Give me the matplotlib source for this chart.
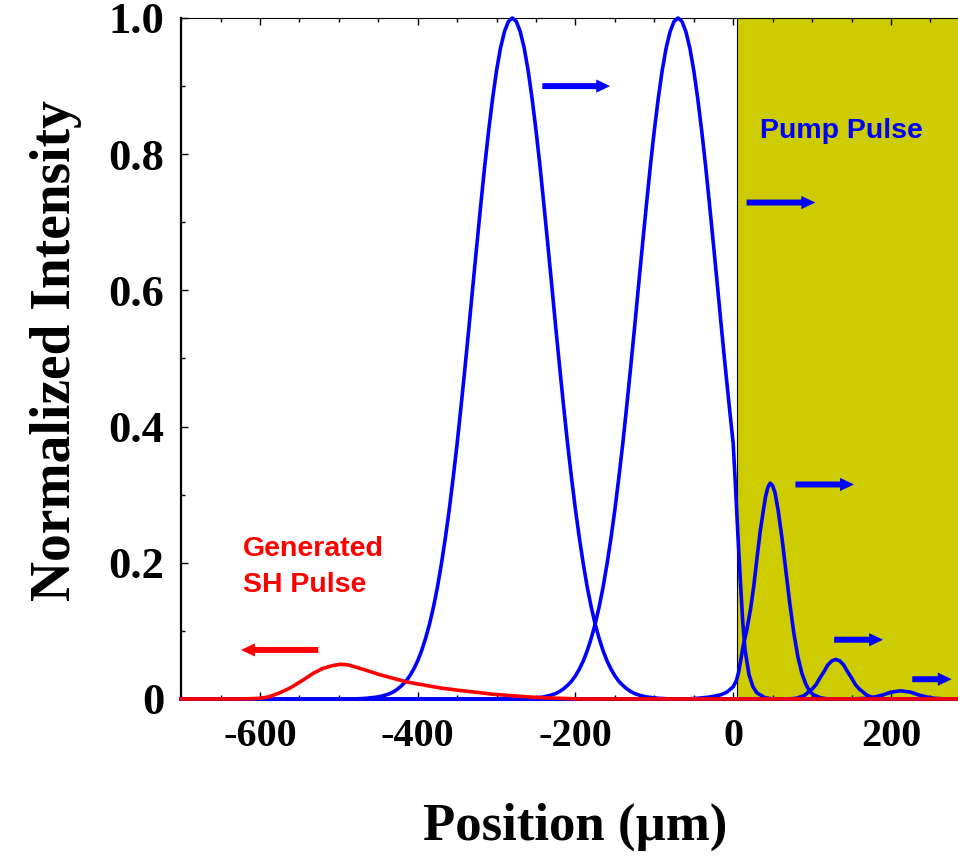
import matplotlib
matplotlib.use('Agg')
import matplotlib.pyplot as plt
from matplotlib.ticker import MultipleLocator

plt.rcParams['axes.unicode_minus'] = False

################### DATA ###################
# position in um, normalized intensity
pulse1_x = [-700, -480, -465, -450, -440, -435, -430, -425, -420, -415, -410, -405, -400, -395, -390,
            -385, -380, -375, -370, -365, -360, -355, -350, -345, -340, -335, -330, -325, -320,
            -315, -310, -305, -300, -295, -290, -285, -280, -275, -270, -265, -260, -255, -250,
            -245, -240, -235, -230, -225, -220, -215, -210, -205, -200, -195, -190, -185, -180,
            -175, -170, -165, -160, -155, -150, -145, -140, -135, -130, -125, -120, -110, -95, -80, 285]
pulse1_y = [0.0, 0.0, 0.001, 0.003, 0.006, 0.008, 0.011, 0.015, 0.020, 0.026, 0.034, 0.044, 0.056, 0.071, 0.089,
            0.110, 0.135, 0.164, 0.198, 0.236, 0.278, 0.325, 0.375, 0.430, 0.487, 0.546, 0.607, 0.667, 0.726,
            0.783, 0.835, 0.882, 0.923, 0.956, 0.980, 0.995, 1.0, 0.995, 0.980, 0.956, 0.923, 0.882, 0.835,
            0.783, 0.726, 0.667, 0.607, 0.546, 0.487, 0.430, 0.375, 0.325, 0.278, 0.236, 0.198, 0.164, 0.135,
            0.110, 0.089, 0.071, 0.056, 0.044, 0.034, 0.026, 0.020, 0.015, 0.011, 0.008, 0.006, 0.003, 0.001, 0.0, 0.0]

pulse2_x = [-700, -270, -255, -240, -230, -225, -220, -215, -210, -205, -200, -195, -190, -185, -180,
            -175, -170, -165, -160, -155, -150, -145, -140, -135, -130, -125, -120, -115, -110,
            -105, -100, -95, -90, -85, -80, -75, -70, -65, -60, -55, -50, -45, -40, -35, -30,
            -25, -20, -15, -10, -5, 0, 3, 6, 9, 12, 15, 20, 25, 30, 40, 50, 285]
pulse2_y = [0.0, 0.0, 0.001, 0.003, 0.006, 0.008, 0.011, 0.015, 0.020, 0.026, 0.034, 0.044, 0.056, 0.071, 0.089,
            0.110, 0.135, 0.164, 0.198, 0.236, 0.278, 0.325, 0.375, 0.430, 0.487, 0.546, 0.607, 0.667, 0.726,
            0.783, 0.835, 0.882, 0.923, 0.956, 0.980, 0.995, 1.0, 0.995, 0.980, 0.956, 0.923, 0.882, 0.835, 0.783, 0.726,
            0.667, 0.607, 0.546, 0.487, 0.430, 0.375, 0.310, 0.240, 0.175, 0.115, 0.072, 0.036, 0.018, 0.009, 0.002, 0.0, 0.0]

pulse3_x = [-700, -60, -45, -29, -16, -8, 0, 4, 7, 10, 13, 17, 22, 26, 30, 34, 38, 41, 44, 47,
            50, 53, 57, 62, 67, 72, 77, 82, 87, 92, 97, 102, 110, 120, 285]
pulse3_y = [0.0, 0.0, 0.001, 0.003, 0.006, 0.010, 0.018, 0.027, 0.040, 0.060, 0.080, 0.100, 0.132, 0.165,
            0.205, 0.244, 0.275, 0.297, 0.311, 0.317,
            0.313, 0.303, 0.277, 0.235, 0.186, 0.138, 0.096, 0.062, 0.038, 0.022, 0.011, 0.006, 0.002, 0.0, 0.0]

pulse4_x = [-700, 70, 80, 90, 100, 105, 110, 115, 120, 125, 130, 135, 140, 145, 150, 155, 160, 170, 180, 190, 285]
pulse4_y = [0.0, 0.0, 0.001, 0.005, 0.0145, 0.021, 0.031, 0.040, 0.050, 0.056, 0.058, 0.056, 0.050, 0.040,
            0.031, 0.021, 0.0145, 0.005, 0.001, 0.0, 0.0]

pulse5_x = [-700, 150, 170, 180, 190, 200, 212, 225, 235, 245, 255, 270, 285]
pulse5_y = [0.0, 0.0, 0.001, 0.003, 0.006, 0.010, 0.012, 0.010, 0.006, 0.003, 0.001, 0.0, 0.0]

sh_x = [-700, -625, -610, -600, -589, -575, -562, -545, -532, -520, -508, -498, -488, -479, -465, -449, -430,
        -414, -390, -370, -350, -327, -305, -283, -260, -239, -215, -195, 285]
sh_y = [0.0, 0.0, 0.0005, 0.001, 0.003, 0.009, 0.016, 0.028, 0.038, 0.045, 0.049, 0.051, 0.050, 0.047, 0.042,
        0.036, 0.030, 0.025, 0.020, 0.016, 0.013, 0.010, 0.007, 0.005, 0.003, 0.0016, 0.0008, 0.0, 0.0]

crystal_start = 5
x_range = (-700, 285)

# arrows: (tail x, tip x, y)
blue_arrows = [(-242, -156, 0.900), (17, 104, 0.729), (79, 153, 0.315), (128, 190, 0.087), (227, 277, 0.029)]
red_arrow = (-526, -624, 0.072)
############## END: DATA ###################

serif = 'Liberation Serif'
sans = 'Liberation Sans'
arrow_style = 'simple,head_length=1.0,head_width=0.95,tail_width=0.43'

fig = plt.figure(figsize=(9.58, 8.57), dpi=100)
ax = fig.add_axes([0.189, 0.1844, 0.811, 0.7946])

# nonlinear crystal region
ax.axvspan(crystal_start, x_range[1], color='#cccc00', lw=0, zorder=0)
ax.axvline(crystal_start, color='black', lw=0.8, zorder=1)

for px, py in [(pulse1_x, pulse1_y), (pulse2_x, pulse2_y), (pulse3_x, pulse3_y),
               (pulse4_x, pulse4_y), (pulse5_x, pulse5_y)]:
    ax.plot(px, py, color='#0000ff', lw=2.6, clip_on=False, zorder=3, solid_joinstyle='round')
ax.plot(sh_x, sh_y, color='#ff0000', lw=2.6, clip_on=False, zorder=4, solid_joinstyle='round')

# direction arrows
for x0, x1, y in blue_arrows:
    ax.annotate('', xy=(x1, y), xytext=(x0, y),
                arrowprops=dict(arrowstyle=arrow_style, mutation_scale=10, color='#0000ff',
                                lw=0, shrinkA=0, shrinkB=0))
ax.annotate('', xy=(red_arrow[1], red_arrow[2]), xytext=(red_arrow[0], red_arrow[2]),
            arrowprops=dict(arrowstyle=arrow_style, mutation_scale=10, color='#ff0000',
                            lw=0, shrinkA=0, shrinkB=0))

ax.text(34, 0.824, 'Pump Pulse', color='#0000ff', fontsize=20.5, fontweight='bold',
        family=sans, ha='left', va='baseline')
ax.text(-621, 0.210, 'Generated', color='#ff0000', fontsize=20.5, fontweight='bold',
        family=sans, ha='left', va='baseline')
ax.text(-621, 0.157, 'SH Pulse', color='#ff0000', fontsize=20.5, fontweight='bold',
        family=sans, ha='left', va='baseline')

ax.set_xlim(*x_range)
ax.set_ylim(0, 1)
ax.xaxis.set_major_locator(MultipleLocator(200))
ax.xaxis.set_minor_locator(MultipleLocator(50))
ax.yaxis.set_minor_locator(MultipleLocator(0.1))
ax.set_yticks([0, 0.2, 0.4, 0.6, 0.8, 1.0])
ax.set_yticklabels(['0', '0.2', '0.4', '0.6', '0.8', '1.0'])

ax.tick_params(which='both', direction='in', top=True, right=False, width=1)
ax.tick_params(which='major', length=5)
ax.tick_params(which='minor', length=3)
ax.tick_params(axis='x', pad=14)
ax.tick_params(axis='y', pad=12)
for lab in ax.get_xticklabels():
    lab.set_family(serif)
    lab.set_fontweight('bold')
    lab.set_fontsize(29)
for lab in ax.get_yticklabels():
    lab.set_family(serif)
    lab.set_fontweight('bold')
    lab.set_fontsize(32)

ax.spines['right'].set_visible(False)
ax.spines['left'].set_linewidth(1.6)
ax.spines['top'].set_linewidth(0.8)
ax.spines['bottom'].set_linewidth(0.8)

ax.set_xlabel('Position (\u00b5m)', family=serif, fontweight='bold', fontsize=38)
ax.set_ylabel('Normalized Intensity', family=serif, fontweight='bold', fontsize=40)
ax.xaxis.set_label_coords(0.507, -0.153)
ax.yaxis.set_label_coords(-0.128, 0.512)

fig.savefig('out.png', dpi=100)
